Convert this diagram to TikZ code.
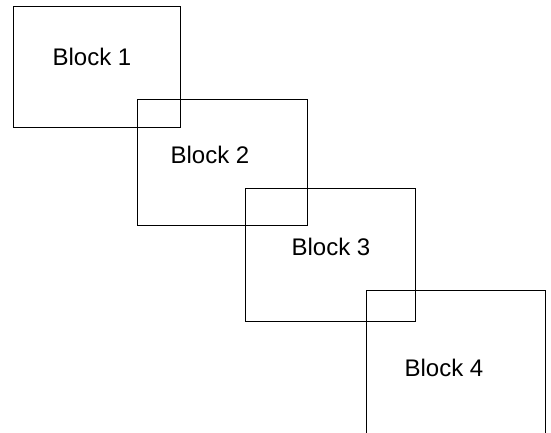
\documentclass[tikz,border=0pt]{standalone}
\usepackage{fontspec}
\setmainfont{Liberation Sans}
\usepackage{tikz}

\begin{document}
\begin{tikzpicture}[x=1pt,y=-1pt,every node/.style={font=\fontsize{24}{28}\selectfont},
		block/.style={draw,line width=0.7pt,inner sep=0pt}]
			\useasboundingbox (0,0) rectangle (551,433);
			\clip (0,0) rectangle (551,433);
			\node[block,minimum width=167,minimum height=121] (b1) at (96.5,66.5) {};
			\node[block,minimum width=170,minimum height=126] (b2) at (222,162) {};
			\node[block,minimum width=170,minimum height=133] (b3) at (330,254.5) {};
			\node[block,minimum width=179,minimum height=180] (b4) at (455.5,380) {};
			\node (t1) at (92,57) {Block 1};
			\node (t2) at (210,155) {Block 2};
			\node (t3) at (331,247) {Block 3};
			\node (t4) at (444,368) {Block 4};
		\end{tikzpicture}
\end{document}
